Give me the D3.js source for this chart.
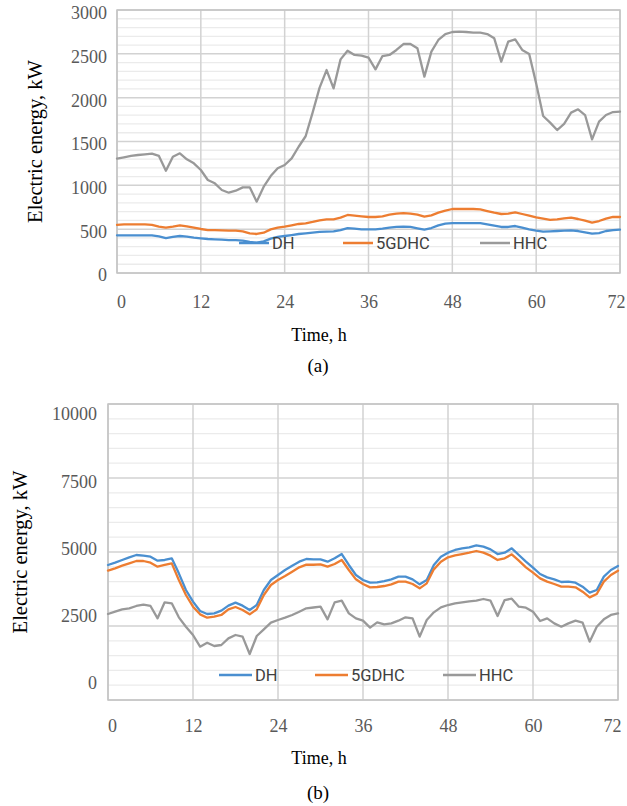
<!DOCTYPE html>
<html>
<head>
<meta charset="utf-8">
<script src="https://cdn.jsdelivr.net/npm/d3@7"></script>
<style>
  body { margin: 0; background: #fff; }
  svg { display: block; }
</style>
</head>
<body>
<svg id="chart" width="627" height="806"></svg>
<script>
// hours 0..72
const hours = d3.range(0, 73);
const xTicks = [0, 12, 24, 36, 48, 60, 72];
const seriesNames = ["DH", "5GDHC", "HHC"];
const seriesColors = ["#4a8fd0", "#ed7d31", "#999999"];

// (a) electric energy, kW
const yTicksA = [0, 500, 1000, 1500, 2000, 2500, 3000];
const dhA = [430,430,430,430,430,430,418,399,411,422,414,403,395,388,384,380,376,376,369,354,346,361,392,411,422,
  433,445,452,460,468,471,475,490,513,506,498,498,498,506,517,525,529,525,510,494,513,544,563,570,570,570,570,570,
  555,540,525,525,536,517,498,483,471,475,479,483,487,479,464,449,456,479,490,494];
const gdhcA = [548,555,555,555,555,548,529,517,529,544,532,517,502,490,490,487,483,483,475,452,445,460,498,517,529,
  544,559,567,582,599,612,612,631,662,654,646,639,639,646,665,677,684,677,665,643,658,688,711,730,730,730,730,726,
  707,688,673,677,692,673,654,635,620,605,612,624,631,616,597,574,593,620,639,639];
const hhcA = [1305,1320,1335,1346,1354,1361,1335,1167,1327,1365,1297,1251,1175,1061,1023,947,916,939,977,977,814,985,1106,1194,1232,
  1308,1440,1560,1830,2115,2315,2106,2437,2536,2487,2479,2456,2323,2475,2487,2544,2612,2612,2563,2240,2525,2658,2726,2749,2753,2749,2741,2741,
  2726,2677,2411,2639,2665,2544,2498,2163,1791,1715,1631,1700,1829,1867,1802,1525,1726,1802,1836,1840];

// (b) electric energy, kW
const yTicksB = [0, 2500, 5000, 7500, 10000];
const dhB = [4561,4640,4730,4820,4899,4876,4842,4707,4730,4786,4279,3716,3322,3007,2905,2928,3018,3187,3288,3187,3041,3209,3716,4054,4223,
  4392,4538,4673,4763,4750,4752,4673,4786,4932,4561,4223,4054,3964,3975,4020,4077,4167,4167,4077,3908,4054,4561,4842,4977,5068,5124,5158,5225,
  5180,5090,4932,4977,5124,4899,4673,4471,4257,4144,4077,3986,3998,3964,3829,3626,3716,4167,4392,4527];
const gdhcB = [4369,4448,4538,4617,4696,4696,4640,4505,4561,4617,4054,3547,3153,2894,2781,2815,2872,3063,3142,3041,2894,3063,3547,3885,4054,
  4189,4336,4482,4572,4570,4583,4505,4595,4730,4392,4077,3919,3806,3818,3851,3908,3998,3998,3919,3772,3941,4414,4673,4820,4887,4932,4977,5034,
  4977,4876,4730,4786,4921,4707,4482,4302,4110,3998,3919,3829,3829,3806,3660,3468,3581,3998,4223,4369];
const hhcB = [2905,2984,3063,3097,3176,3221,3176,2759,3300,3266,2793,2477,2196,1802,1937,1824,1858,2083,2196,2140,1554,2162,2387,2613,2703,
  2781,2872,2984,3097,3125,3153,2725,3300,3356,2928,2759,2680,2444,2624,2556,2590,2680,2793,2759,2140,2703,2962,3131,3209,3266,3300,3333,3356,
  3412,3356,2838,3378,3423,3153,3119,2984,2669,2759,2590,2477,2590,2680,2613,1971,2477,2725,2872,2928];

const svg = d3.select("#chart");
svg.append("rect").attr("width", 627).attr("height", 806).attr("fill", "#fff");

const serif = "'Liberation Serif', 'Times New Roman', serif";

function drawPanel(p){
  const g = svg.append("g");
  const x = d3.scaleLinear().domain([0, 72]).range([p.left, p.right]);
  const y = d3.scaleLinear().domain([0, p.yMax]).range([p.bottom, p.top]);
  // tick labels sit on their own scale (as in the source image)
  const yLab = d3.scaleLinear().domain([0, p.yMax]).range(p.labRange);

  // minor horizontal grid
  g.selectAll("line.minor").data(d3.range(0, p.yMax + 1, p.minor).filter(v => v % p.major !== 0))
    .join("line").attr("class", "minor")
    .attr("x1", p.left).attr("x2", p.right)
    .attr("y1", d => y(d)).attr("y2", d => y(d))
    .attr("stroke", "#ebebeb").attr("stroke-width", 1.3);
  // major horizontal grid
  g.selectAll("line.major").data(p.yTicks)
    .join("line").attr("class", "major")
    .attr("x1", p.left).attr("x2", p.right)
    .attr("y1", d => y(d)).attr("y2", d => y(d))
    .attr("stroke", "#d2d2d2").attr("stroke-width", 1.5);
  // vertical grid
  g.selectAll("line.vgrid").data(xTicks)
    .join("line").attr("class", "vgrid")
    .attr("x1", d => x(d)).attr("x2", d => x(d))
    .attr("y1", p.top).attr("y2", p.bottom)
    .attr("stroke", "#d2d2d2").attr("stroke-width", 1.5);
  // frame
  g.append("rect").attr("x", p.left).attr("y", p.top)
    .attr("width", p.right - p.left).attr("height", p.bottom - p.top)
    .attr("fill", "none").attr("stroke", "#c4c4c4").attr("stroke-width", 1.5);

  // y tick labels
  const ya = g.append("g").attr("transform", `translate(${p.labX},0)`)
    .call(d3.axisLeft(yLab).tickValues(p.yTicks).tickSize(0).tickPadding(0).tickFormat(d3.format("d")));
  ya.select(".domain").remove();
  ya.selectAll("text").attr("font-family", serif).attr("font-size", 18).attr("fill", "#595959");

  // x tick labels
  const xa = g.append("g").attr("transform", `translate(0,${p.xLabY})`)
    .call(d3.axisBottom(x).tickValues(xTicks).tickSize(0).tickPadding(0));
  xa.select(".domain").remove();
  xa.selectAll("text").attr("font-family", serif).attr("font-size", 18).attr("fill", "#595959").attr("dy", "0.35em");
  xa.selectAll("text").filter(d => d === 0).attr("dx", 4);
  xa.selectAll("text").filter(d => d === 72).attr("text-anchor", "end").attr("dx", p.endDx);

  // titles
  g.append("text").attr("x", 319).attr("y", p.xTitleY).attr("dy", "0.35em")
    .attr("text-anchor", "middle").attr("font-family", serif).attr("font-size", 18).text("Time, h");
  g.append("text").attr("x", 318).attr("y", p.capY).attr("dy", "0.35em")
    .attr("text-anchor", "middle").attr("font-family", serif).attr("font-size", 19).text(p.caption);
  g.append("text").attr("transform", `translate(${p.yTitleX},${(p.top + p.bottom) / 2}) rotate(-90)`)
    .attr("dy", "0.35em").attr("text-anchor", "middle").attr("font-family", serif).attr("font-size", 20.5)
    .text("Electric energy, kW");

  // lines
  const line = d3.line().x((d, i) => x(hours[i])).y(d => y(d));
  p.series.forEach((s, i) => {
    g.append("path").datum(s).attr("d", line)
      .attr("fill", "none").attr("stroke", seriesColors[i]).attr("stroke-width", 2.3)
      .attr("stroke-linejoin", "round").attr("stroke-linecap", "round");
  });

  // legend
  seriesNames.forEach((name, i) => {
    const lx = p.legX[i];
    g.append("line").attr("x1", lx).attr("x2", lx + p.legLen).attr("y1", p.legY).attr("y2", p.legY)
      .attr("stroke", seriesColors[i]).attr("stroke-width", 2.5);
    g.append("text").attr("x", lx + p.legLen + 3).attr("y", p.legY).attr("dy", "0.36em")
      .attr("font-family", "Roboto, 'Liberation Sans', sans-serif").attr("font-size", 16.5)
      .attr("fill", "#404040").text(name);
  });
}

drawPanel({
  left: 117, right: 620, top: 10, bottom: 273, yMax: 3000, major: 500, minor: 100,
  yTicks: yTicksA, labRange: [275, 13], labX: 107,
  xLabY: 302, xTitleY: 335, capY: 365, caption: "(a)", yTitleX: 35, endDx: 5,
  series: [dhA, gdhcA, hhcA],
  legX: [239, 343, 480], legLen: 30, legY: 243
});

drawPanel({
  left: 108, right: 618, top: 404, bottom: 700, yMax: 10000, major: 2500, minor: 500,
  yTicks: yTicksB, labRange: [683, 414], labX: 97,
  xLabY: 726, xTitleY: 758, capY: 792, caption: "(b)", yTitleX: 20, endDx: 3,
  series: [dhB, gdhcB, hhcB],
  legX: [219, 315, 443], legLen: 33, legY: 675
});
</script>
</body>
</html>
